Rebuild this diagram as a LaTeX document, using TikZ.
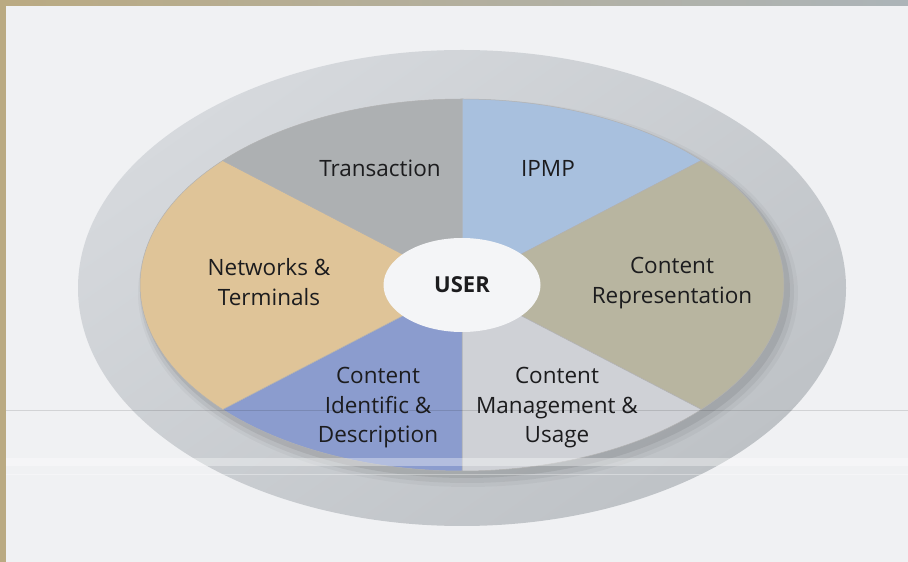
\documentclass[tikz,border=0pt]{standalone}
\usepackage{fontspec}
\setmainfont{Open Sans}
\usetikzlibrary{shapes}
\definecolor{paper}{RGB}{240,241,243}
\definecolor{frametan}{RGB}{186,170,130}
\definecolor{framegrey}{RGB}{172,180,184}
\definecolor{ringhi}{RGB}{214,217,221}
\definecolor{ringlo}{RGB}{190,194,198}
\definecolor{transgrey}{RGB}{173,176,178}
\definecolor{ipmpblue}{RGB}{168,192,222}
\definecolor{repkhaki}{RGB}{184,181,160}
\definecolor{mgmtgrey}{RGB}{207,209,214}
\definecolor{identblue}{RGB}{139,156,206}
\definecolor{nettan}{RGB}{223,196,152}
\definecolor{hubwhite}{RGB}{244,245,247}
\definecolor{inkdark}{RGB}{28,28,30}
\tikzstyle{sector} = [draw=black!30, line width=0.5pt]
\tikzstyle{seclabel} = [text=inkdark, align=center, font=\fontsize{22.5}{29.5}\selectfont]
\tikzstyle{hubcell} = [ellipse, fill=hubwhite, minimum width=157pt, minimum height=94pt, inner sep=0pt, text=inkdark, font=\fontsize{22}{26}\selectfont\bfseries]

\begin{document}
\begin{tikzpicture}[x=1pt, y=1pt]
    \useasboundingbox (0,0) rectangle (908,562);
    % paper with the tan frame on two sides
    \fill[paper] (0,0) rectangle (908,562);
    \fill[frametan] (0,0) rectangle (6,562);
    \shade[left color=frametan, right color=framegrey] (0,556) rectangle (908,562);

    % outer ring
    \shade[top color=ringhi, bottom color=ringlo, shading angle=35] (462,274) ellipse [x radius=384, y radius=238];
    % soft shadow under the wheel
    \fill[black, opacity=0.03] (468,269) ellipse [x radius=330, y radius=194];
    \fill[black, opacity=0.05] (467,270) ellipse [x radius=327, y radius=191];
    \fill[black, opacity=0.07] (466,272) ellipse [x radius=324, y radius=188];

    % the six sectors
    \coordinate (hub) at (462,277);
    \path[sector, fill=ipmpblue] (hub) -- ++(90:322 and 186) arc[start angle=90, end angle=42, x radius=322, y radius=186] -- cycle;
    \path[sector, fill=repkhaki] (hub) -- ++(42:322 and 186) arc[start angle=42, end angle=-42, x radius=322, y radius=186] -- cycle;
    \path[sector, fill=mgmtgrey] (hub) -- ++(-42:322 and 186) arc[start angle=-42, end angle=-90, x radius=322, y radius=186] -- cycle;
    \path[sector, fill=identblue] (hub) -- ++(-90:322 and 186) arc[start angle=-90, end angle=-138, x radius=322, y radius=186] -- cycle;
    \path[sector, fill=nettan] (hub) -- ++(-138:322 and 186) arc[start angle=-138, end angle=-222, x radius=322, y radius=186] -- cycle;
    \path[sector, fill=transgrey] (hub) -- ++(138:322 and 186) arc[start angle=138, end angle=90, x radius=322, y radius=186] -- cycle;

    \node[hubcell] (user) at (hub) {USER};

    \node[seclabel] (transaction) at (380,394) {Transaction};
    \node[seclabel] (ipmp) at (548,394) {IPMP};
    \node[seclabel] (networks) at (269,280) {Networks \&\\Terminals};
    \node[seclabel] (contentrep) at (672,279) {Content\\Representation};
    \node[seclabel] (identific) at (378,154) {Content\\Identific \&\\Description};
    \node[seclabel] (management) at (557,154) {Content\\Management \&\\Usage};

    % crease and glare across the sheet
    \draw[black, opacity=0.12, line width=0.8pt] (6,152) -- (908,152);
    \fill[white, opacity=0.35] (6,96) rectangle (908,104);
    \draw[white, opacity=0.35, line width=1pt] (6,87) -- (908,87);
\end{tikzpicture}
\end{document}
